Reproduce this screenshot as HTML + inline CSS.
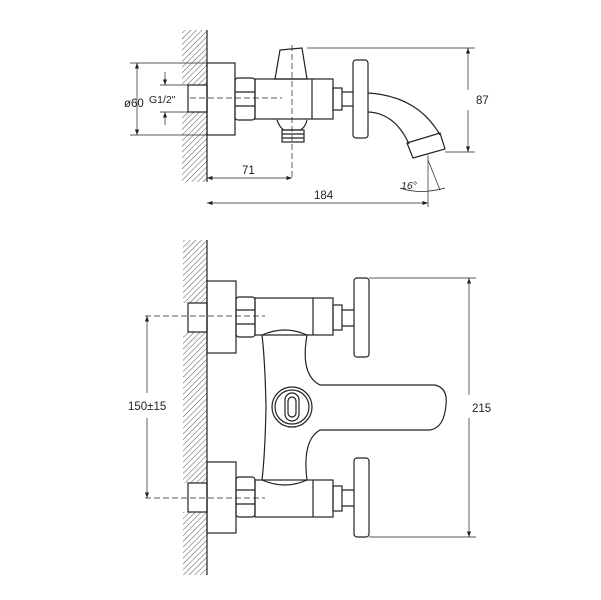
<!DOCTYPE html>
<html><head><style>body{margin:0;background:#fff}svg{display:block}text{font-family:"Liberation Sans",sans-serif;font-size:11.5px;fill:#222}</style></head><body>
<svg width="601" height="600" viewBox="0 0 601 600" xmlns="http://www.w3.org/2000/svg">
<defs>
<pattern id="h" width="4" height="4" patternUnits="userSpaceOnUse" patternTransform="rotate(45)"><line x1="0" y1="0" x2="0" y2="4" stroke="#555" stroke-width="1"/></pattern>
<marker id="a" markerWidth="8" markerHeight="6" refX="8" refY="3" orient="auto-start-reverse"><path d="M0,0L8,3L0,6z" fill="#222"/></marker>
</defs>
<g fill="none" stroke="#222" stroke-width="1.2">
<!-- TOP VIEW -->
<rect x="182" y="30" width="25" height="55" fill="url(#h)" stroke="none"/>
<rect x="182" y="112" width="25" height="70" fill="url(#h)" stroke="none"/>
<line x1="207" y1="30" x2="207" y2="182"/>
<rect x="188" y="85" width="19" height="27"/>
<rect x="207" y="63" width="28" height="72"/>
<rect x="235" y="78" width="20" height="42" rx="3"/>
<line x1="235" y1="92" x2="255" y2="92"/><line x1="235" y1="106" x2="255" y2="106"/>
<rect x="255" y="79" width="78" height="40"/>
<line x1="312" y1="79" x2="312" y2="119"/>
<path d="M280,50 L302,48 L307,79 L275,79 Z"/>
<path d="M277,120 Q280,128 284,130 L300,130 Q305,128 307,120"/>
<rect x="282" y="130" width="22" height="12"/>
<line x1="282" y1="134" x2="304" y2="134"/><line x1="282" y1="138" x2="304" y2="138"/>
<rect x="333" y="88" width="9" height="22"/>
<line x1="342" y1="92" x2="353" y2="92"/><line x1="342" y1="106" x2="353" y2="106"/>
<rect x="353" y="60" width="15" height="78" rx="3"/>
<path d="M368,93 Q418,96 440,135 M368,112 Q395,113 409,144"/>
<path d="M407,143 L440,133 L445,149 L413,158 Z"/>
<line x1="292" y1="45" x2="292" y2="178" stroke-dasharray="6,3" stroke-width="0.7"/>
<line x1="190" y1="98" x2="282" y2="98" stroke-dasharray="6,3" stroke-width="0.7"/>
<!-- top dims -->
<line x1="130" y1="63" x2="207" y2="63" stroke-width="0.7"/><line x1="130" y1="135" x2="207" y2="135" stroke-width="0.7"/>
<line x1="137" y1="63" x2="137" y2="135" marker-start="url(#a)" marker-end="url(#a)" stroke-width="0.7"/>
<line x1="160" y1="85" x2="188" y2="85" stroke-width="0.7"/><line x1="160" y1="112" x2="188" y2="112" stroke-width="0.7"/>
<line x1="165" y1="72" x2="165" y2="85" marker-end="url(#a)" stroke-width="0.7"/>
<line x1="165" y1="125" x2="165" y2="112" marker-end="url(#a)" stroke-width="0.7"/>
<line x1="307" y1="48" x2="475" y2="48" stroke-width="0.7"/><line x1="445" y1="152" x2="475" y2="152" stroke-width="0.7"/>
<line x1="468" y1="48" x2="468" y2="90" marker-start="url(#a)" stroke-width="0.7"/>
<line x1="468" y1="110" x2="468" y2="152" marker-end="url(#a)" stroke-width="0.7"/>
<line x1="207" y1="178" x2="292" y2="178" marker-start="url(#a)" marker-end="url(#a)" stroke-width="0.7"/>
<line x1="428" y1="155" x2="428" y2="207" stroke-width="0.7"/>
<line x1="428" y1="160" x2="440" y2="190" stroke-width="0.7"/>
<path d="M400,188 Q420,195 445,188" stroke-width="0.7"/>
<line x1="207" y1="203" x2="428" y2="203" marker-start="url(#a)" marker-end="url(#a)" stroke-width="0.7"/>
<!-- BOTTOM VIEW -->
<rect x="183" y="240" width="24" height="63" fill="url(#h)" stroke="none"/>
<rect x="183" y="332" width="24" height="151" fill="url(#h)" stroke="none"/>
<rect x="183" y="512" width="24" height="63" fill="url(#h)" stroke="none"/>
<line x1="207" y1="240" x2="207" y2="575"/>
<rect x="188" y="303" width="19" height="29"/><rect x="188" y="483" width="19" height="29"/>
<rect x="207" y="281" width="29" height="72"/><rect x="207" y="462" width="29" height="71"/>
<rect x="236" y="297" width="19" height="40" rx="3"/><rect x="236" y="477" width="19" height="40" rx="3"/>
<line x1="236" y1="310" x2="255" y2="310"/><line x1="236" y1="324" x2="255" y2="324"/>
<line x1="236" y1="490" x2="255" y2="490"/><line x1="236" y1="504" x2="255" y2="504"/>
<rect x="255" y="298" width="78" height="37"/><rect x="255" y="480" width="78" height="37"/>
<line x1="313" y1="298" x2="313" y2="335"/><line x1="313" y1="480" x2="313" y2="517"/>
<rect x="333" y="305" width="9" height="25"/><rect x="333" y="486" width="9" height="25"/>
<path d="M342,310 L354,310 M342,326 L354,326 M342,490 L354,490 M342,506 L354,506"/>
<rect x="354" y="278" width="15" height="79" rx="3"/><rect x="354" y="458" width="15" height="79" rx="3"/>
<path d="M262,335 Q285,325 307,335 Q300,375 320,385 L435,385 Q448,388 446,405 Q444,428 430,430 L320,430 Q302,440 307,480 Q285,490 262,480 Q265,455 266,407 Q265,360 262,335 Z"/>
<circle cx="292" cy="407" r="20"/><circle cx="292" cy="407" r="17"/>
<rect x="285" y="393" width="14" height="28" rx="7"/><rect x="288" y="397" width="8" height="20" rx="4"/>
<line x1="145" y1="316" x2="265" y2="316" stroke-dasharray="6,3" stroke-width="0.7"/>
<line x1="145" y1="498" x2="265" y2="498" stroke-dasharray="6,3" stroke-width="0.7"/>
<line x1="147" y1="316" x2="147" y2="393" marker-start="url(#a)" stroke-width="0.7"/>
<line x1="147" y1="418" x2="147" y2="498" marker-end="url(#a)" stroke-width="0.7"/>
<line x1="369" y1="278" x2="476" y2="278" stroke-width="0.7"/><line x1="369" y1="537" x2="476" y2="537" stroke-width="0.7"/>
<line x1="469" y1="278" x2="469" y2="395" marker-start="url(#a)" stroke-width="0.7"/>
<line x1="469" y1="418" x2="469" y2="537" marker-end="url(#a)" stroke-width="0.7"/>
</g>
<text x="124" y="107">ø60</text><text x="149" y="103" style="font-size:10.5px">G1/2"</text>
<text x="476" y="104">87</text>
<text x="242" y="174">71</text>
<text x="314" y="199">184</text>
<text x="401" y="189" style="font-style:italic;font-size:10.5px">16°</text>
<text x="128" y="410">150±15</text>
<text x="472" y="412">215</text>
</svg>
</body></html>
